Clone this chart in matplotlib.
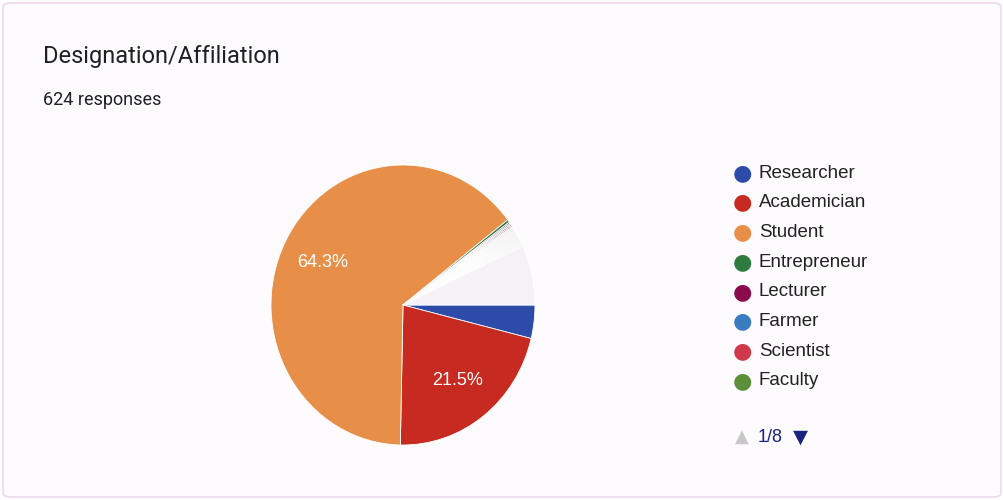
import matplotlib
matplotlib.use("Agg")
import matplotlib.pyplot as plt
from matplotlib.patches import FancyBboxPatch

plt.rcParams['font.family'] = ['Liberation Sans', 'DejaVu Sans']

# ---- data ----
title = "Designation/Affiliation"
subtitle = "624 responses"
legend_labels = ["Researcher", "Academician", "Student", "Entrepreneur",
                 "Lecturer", "Farmer", "Scientist", "Faculty"]
legend_counts = [24, 134, 401, 2, 1, 1, 1, 1]
legend_colors = ["#2d4caa", "#c62a20", "#e78f48", "#2f7a3e",
                 "#8a0c4c", "#3b7bc0", "#d0394a", "#5b8f3a"]
# further small categories (later legend pages), one response each
extra_counts = [1] * 16
extra_colors = ["#d9c7e3", "#c7d5ea", "#e6c9d3", "#d6e3c9", "#e8d9c4",
                "#cfd0ea", "#ead0e0", "#c9e0e2", "#e2d6ea", "#d3dce8",
                "#ecd7d7", "#dfe6cf", "#e4dcef", "#d7e4ec", "#eedfe6",
                "#e6e0d6"]
other_count = 43
other_color = "#f6f1f6"
page_text = "1/8"

counts = legend_counts + extra_counts + [other_count]
colors = legend_colors + extra_colors + [other_color]

fig = plt.figure(figsize=(10.04, 5.0), dpi=100)
fig.patch.set_facecolor("white")

# card background / border
card = FancyBboxPatch((3 / 1004, 3 / 500), 998 / 1004, 494 / 500,
                      boxstyle="round,pad=0,rounding_size=0.008",
                      transform=fig.transFigure, facecolor="#fdfbfd",
                      edgecolor="#efd9ef", linewidth=1.2, zorder=-5)
fig.patches.append(card)

fig.text(43 / 1004, 1 - 56 / 500, title, fontsize=17, color="#202124",
         va="center", ha="left", family=["Roboto", "DejaVu Sans"])
fig.text(43 / 1004, 1 - 100 / 500, subtitle, fontsize=13, color="#202124",
         va="center", ha="left", family=["Roboto", "DejaVu Sans"])

# pie axes
cx, cy, rx, ry = 403, 305, 132, 140
ax = fig.add_axes([(cx - rx) / 1004, (500 - cy - ry) / 500,
                   2 * rx / 1004, 2 * ry / 500])
ax.set_zorder(2)


def fmt(p):
    return f"{p:.1f}%" if p > 15 else ""


wedges, texts, autotexts = ax.pie(
    counts, colors=colors, startangle=0, counterclock=False,
    autopct=fmt, pctdistance=0.68,
    wedgeprops=dict(edgecolor="white", linewidth=0.6),
    textprops=dict(color="white", fontsize=13))
ax.set_aspect("auto")
ax.set_xlim(-1, 1)
ax.set_ylim(-1, 1)
ax.axis("off")

# legend (first page)
lx = 742
for i, (lab, col) in enumerate(zip(legend_labels, legend_colors)):
    y = 173 + i * 29.7
    fig.text(lx / 1004, 1 - y / 500, "\u25CF", color=col, fontsize=16,
             ha="center", va="center", family="DejaVu Sans")
    fig.text(759 / 1004, 1 - y / 500, lab, color="#222222", fontsize=13.5,
             ha="left", va="center")

py = 437
fig.text(742 / 1004, 1 - py / 500, "\u25B2", color="#c8c8c8", fontsize=13,
         ha="center", va="center", family="DejaVu Sans")
fig.text(758 / 1004, 1 - py / 500, page_text, color="#1a237e", fontsize=13,
         ha="left", va="center")
fig.text(800 / 1004, 1 - py / 500, "\u25BC", color="#1a237e", fontsize=14,
         ha="center", va="center", family="DejaVu Sans")

fig.savefig("out.png", dpi=100, facecolor=fig.get_facecolor())
